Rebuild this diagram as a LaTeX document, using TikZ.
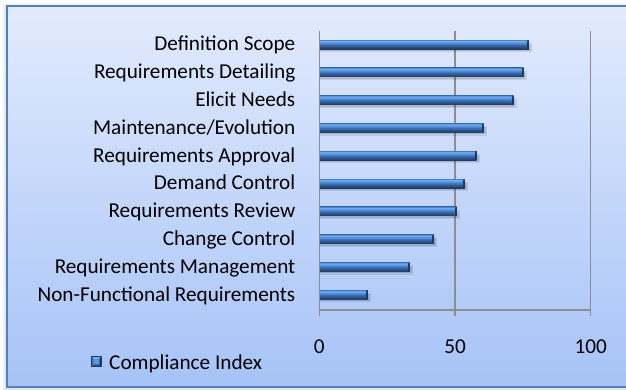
\documentclass[tikz,border=0pt]{standalone}
\usepackage{fontspec}
\setmainfont{Carlito}
\definecolor{bgtop}{HTML}{E2EBFD}
\definecolor{bgbot}{HTML}{A6C3F7}
\definecolor{framec}{HTML}{5082C0}
\definecolor{gridc}{HTML}{8E8E8E}
\definecolor{bA}{HTML}{1E3A62}
\definecolor{bB}{HTML}{2D5389}
\definecolor{bC}{HTML}{3B70B5}
\definecolor{bD}{HTML}{5A98E3}
\definecolor{bE}{HTML}{74ACF0}
\definecolor{bF}{HTML}{4F86CC}
\pgfdeclareverticalshading{barshade}{100bp}{color(0bp)=(bA); color(25bp)=(bA); color(38bp)=(bB); color(50bp)=(bC); color(62bp)=(bD); color(70bp)=(bE); color(75bp)=(bF); color(100bp)=(bF)}
\tikzset{
  lab/.style={font=\fontsize{21.2}{23}\selectfont, inner sep=0pt, anchor=base east, text=black},
  ticklab/.style={font=\fontsize{21.2}{23}\selectfont, inner sep=0pt, anchor=base, text=black},
  gridline/.style={draw=gridc, line width=1.3pt},
}
\begin{document}
\begin{tikzpicture}[x=1pt,y=-1pt]
\useasboundingbox (0,0) rectangle (626,390);
% shadow
\fill[black, opacity=0.06] (3,4) rectangle (630,391);
\fill[black, opacity=0.06] (4.5,5) rectangle (630,389.5);
% frame
\shade[top color=bgtop, bottom color=bgbot] (7,6) rectangle (630,387);
\draw[framec, line width=1.6pt] (7,6) rectangle (630,387);
% grid and axes
\coordinate (g0t) at (319.3,31);
\coordinate (g0b) at (319.3,316);
\coordinate (g1t) at (455,31);
\coordinate (g1b) at (455,316);
\coordinate (g2t) at (590.7,31);
\coordinate (g2b) at (590.7,316);
\coordinate (axl) at (319.3,310);
\coordinate (axr) at (590.7,310);
\draw[gridline] (g0t) -- (g0b);
\draw[gridline] (g1t) -- (g1b);
\draw[gridline] (g2t) -- (g2b);
\draw[gridline] (axl) -- (axr);
% bars
\foreach \v/\t [count=\i from 0] in {77.2/Definition Scope, 75.3/Requirements Detailing, 71.6/Elicit Needs, 60.6/Maintenance\slash Evolution, 58.0/Requirements Approval, 53.6/Demand Control, 50.6/Requirements Review, 42.3/Change Control, 33.4/Requirements Management, 17.9/Non-Functional Requirements}{
  \pgfmathsetmacro{\yc}{44.7+27.81*\i}
  \pgfmathsetmacro{\xe}{319.3+2.714*\v}
  \fill[black, opacity=0.09] (320,\yc-2) rectangle (\xe+3,\yc+7.5);
  \fill[black, opacity=0.10] (320,\yc-1) rectangle (\xe+1.8,\yc+6.2);
  \shade[shading=barshade] (320,\yc-4.6) rectangle (\xe,\yc+4.4);
  \fill[bA] (\xe-1.8,\yc-4.6) rectangle (\xe,\yc+4.4);
  \fill[bB] (\xe-1.8,\yc-4.6) -- (\xe,\yc-4.6) -- (\xe-1.8,\yc-2.8) -- cycle;
  \node[lab] (lab\i) at (295.5,\yc+6.2) {\t};
}
% tick labels
\node[ticklab] (t0) at (319.3,353.5) {0};
\node[ticklab] (t50) at (455,353.5) {50};
\node[ticklab] (t100) at (590.7,353.5) {100};
% legend icon (bevelled square)
\fill[bD] (91.5,356.5) rectangle (101.5,366.5);
\fill[bE] (91.5,356.5) -- (101.5,356.5) -- (99.3,358.7) -- (93.7,358.7) -- cycle;
\fill[bB] (91.5,366.5) -- (101.5,366.5) -- (99.3,364.3) -- (93.7,364.3) -- cycle;
\fill[bA] (101.5,356.5) -- (101.5,366.5) -- (99.3,364.3) -- (99.3,358.7) -- cycle;
\fill[bC] (91.5,356.5) -- (91.5,366.5) -- (93.7,364.3) -- (93.7,358.7) -- cycle;
\draw[bA, line width=0.5pt] (91.5,356.5) rectangle (101.5,366.5);
\node[lab, anchor=base west] (leg) at (109,369) {Compliance Index};
\end{tikzpicture}
\end{document}
